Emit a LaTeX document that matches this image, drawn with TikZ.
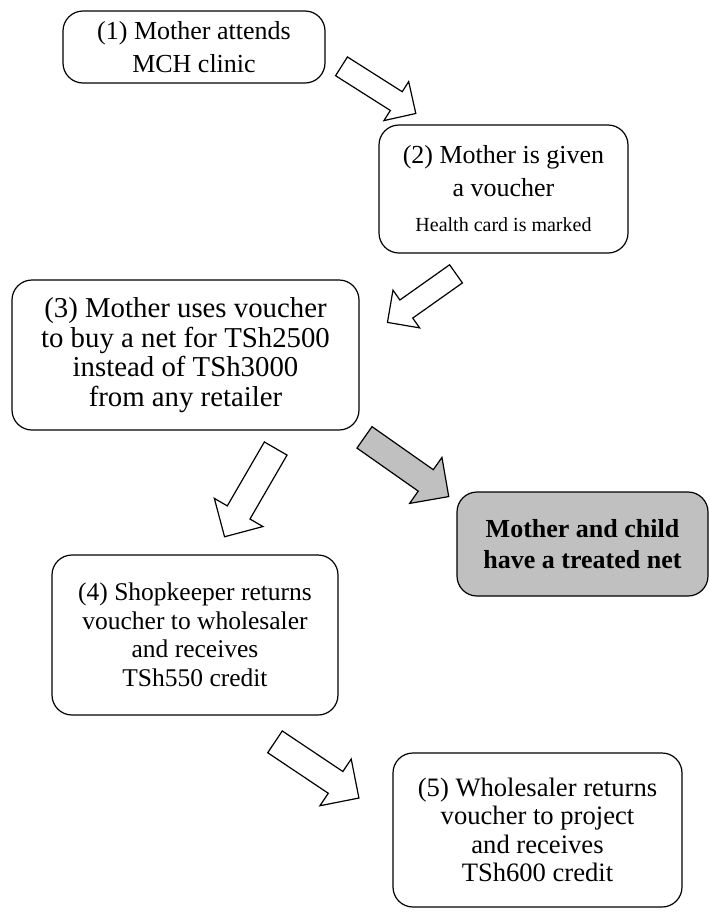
\documentclass[tikz,border=0pt]{standalone}
\usepackage{fontspec}
\setmainfont{Liberation Serif}
\usetikzlibrary{shapes.arrows}
\definecolor{netgray}{RGB}{192,192,192}
\tikzstyle{stage} = [rectangle, rounded corners=20pt, draw=black, line width=1.2pt, align=center, inner sep=0pt, font=\fontsize{26}{29}\selectfont]
\tikzstyle{result} = [stage, fill=netgray, font=\bfseries\fontsize{26}{31}\selectfont]
\tikzstyle{blockarrow} = [single arrow, draw=black, fill=white, line width=1.2pt, inner xsep=0pt, minimum width=0pt, single arrow tip angle=90, anchor=tail]
\tikzstyle{thinarrow} = [blockarrow, inner ysep=10.5pt, single arrow head extend=12pt]
\tikzstyle{widearrow} = [blockarrow, inner ysep=12.5pt, single arrow head extend=15pt]

\begin{document}
\begin{tikzpicture}[x=1pt,y=-1pt]
\useasboundingbox (0,0) rectangle (710,914);

\node (clinic) [stage, minimum width=262pt, minimum height=72pt] at (194,47) {(1) Mother attends\\[4pt]MCH clinic};
\node (voucher) [stage, minimum width=249pt, minimum height=128pt] at (503.5,189) {(2) Mother is given\\[4pt]a voucher\\[6pt]{\fontsize{20}{24}\selectfont Health card is marked}};
\node (buy) [stage, minimum width=347pt, minimum height=150pt, font=\fontsize{28.8}{29.5}\selectfont] at (185.5,355) {(3) Mother uses voucher\\to buy a net for TSh2500\\instead of TSh3000\\from any retailer};
\node (treated) [result, minimum width=251pt, minimum height=104pt] at (582.5,544) {Mother and child\\have a treated net};
\node (shop) [stage, minimum width=286pt, minimum height=160pt, font=\fontsize{25.5}{28.5}\selectfont] at (195,635) {(4) Shopkeeper returns\\voucher to wholesaler\\and receives\\TSh550 credit};
\node (whole) [stage, minimum width=289pt, minimum height=154pt, font=\fontsize{26.6}{28.5}\selectfont] at (537.5,830) {(5) Wholesaler returns\\voucher to project\\and receives\\TSh600 credit};

\node (clinictovoucher) [thinarrow, minimum height=88pt, rotate=-32.4] at (341,66) {};
\node (vouchertobuy) [thinarrow, minimum height=84pt, rotate=-144.7] at (456.5,273.5) {};
\node (buytoshop) [widearrow, minimum height=102pt, rotate=-120.1] at (276,448) {};
\node (buytotreated) [widearrow, fill=netgray, minimum height=103pt, rotate=-35.1] at (364,437) {};
\node (shoptowhole) [widearrow, minimum height=101pt, rotate=-33.8] at (274.5,741.5) {};

\end{tikzpicture}
\end{document}
